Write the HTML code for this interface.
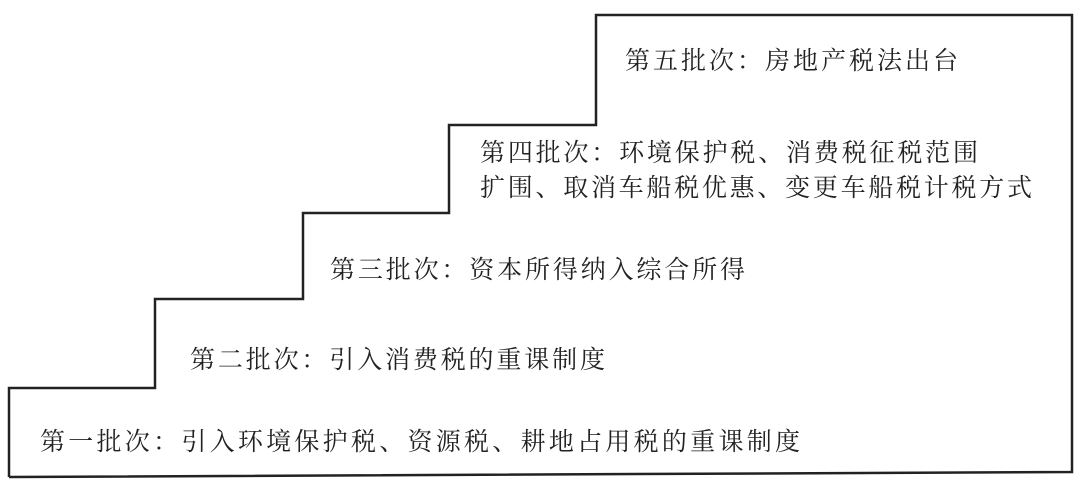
<!DOCTYPE html>
<html><head><meta charset="utf-8"><style>
html,body{margin:0;padding:0;background:#fff;}
svg{display:block;}
text{font-family:"Noto Serif CJK SC","Liberation Serif",serif;font-size:25px;fill:#222;}
</style></head><body>
<svg width="1080" height="483" viewBox="0 0 1080 483" xmlns="http://www.w3.org/2000/svg">
<polyline points="9,477 9,388 155,388 155,299 303,299 303,213 449,213 449,125 596,125 596,15 1072,15 1072,472 9,477" fill="none" stroke="#222" stroke-width="2.5" stroke-linejoin="miter"/>
<text x="625" y="69" textLength="333" lengthAdjust="spacing">第五批次：房地产税法出台</text>
<text x="480" y="161" textLength="498" lengthAdjust="spacing">第四批次：环境保护税、消费税征税范围</text>
<text x="480" y="196" textLength="552" lengthAdjust="spacing">扩围、取消车船税优惠、变更车船税计税方式</text>
<text x="330" y="278" textLength="415" lengthAdjust="spacing">第三批次：资本所得纳入综合所得</text>
<text x="190" y="368" textLength="415" lengthAdjust="spacing">第二批次：引入消费税的重课制度</text>
<text x="40" y="450" textLength="760" lengthAdjust="spacing">第一批次：引入环境保护税、资源税、耕地占用税的重课制度</text>
</svg>
</body></html>
